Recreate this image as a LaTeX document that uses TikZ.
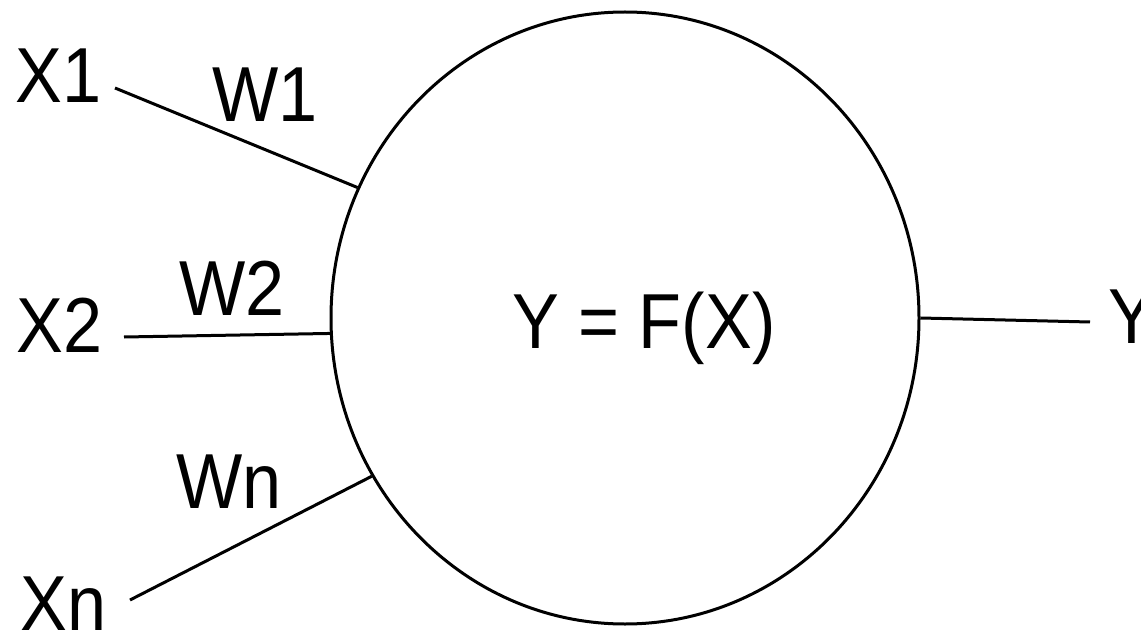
\documentclass[tikz,border=0pt]{standalone}
\usepackage{fontspec}
\setmainfont{Liberation Sans}[FakeStretch=0.9]
\usetikzlibrary{shapes.geometric}
\begin{document}
\begin{tikzpicture}[x=1pt,y=-1pt,
  wire/.style={line width=3pt},
  lbl/.style={inner sep=0pt, anchor=base west, font=\fontsize{78}{90}\selectfont},
  neuronshape/.style={ellipse, draw, line width=3pt, minimum width=588pt, minimum height=612pt, inner sep=0pt}]
\useasboundingbox (0,0) rectangle (1141,631);
\node[neuronshape] (n) at (625,318) {};
\node[lbl] (fx) at (512,348) {Y = F(X)};
\node[lbl] (x1) at (15,103) {X1};
\node[lbl] (w1) at (212,122) {W1};
\node[lbl] (x2) at (16,352) {X2};
\node[lbl] (w2) at (179,315) {W2};
\node[lbl] (xn) at (20,630) {Xn};
\node[lbl] (wn) at (176,508) {Wn};
\node[lbl] (y) at (1108,343) {Y};
\coordinate (x1s) at (115,88);
\coordinate (x2s) at (124,337);
\coordinate (xns) at (130,600);
\coordinate (ye) at (1090,322);
\draw[wire] (x1s) -- (n.154);
\draw[wire] (x2s) -- (n.183.7);
\draw[wire] (xns) -- (n.212.7);
\draw[wire] (n.-0.8) -- (ye);
\end{tikzpicture}
\end{document}
